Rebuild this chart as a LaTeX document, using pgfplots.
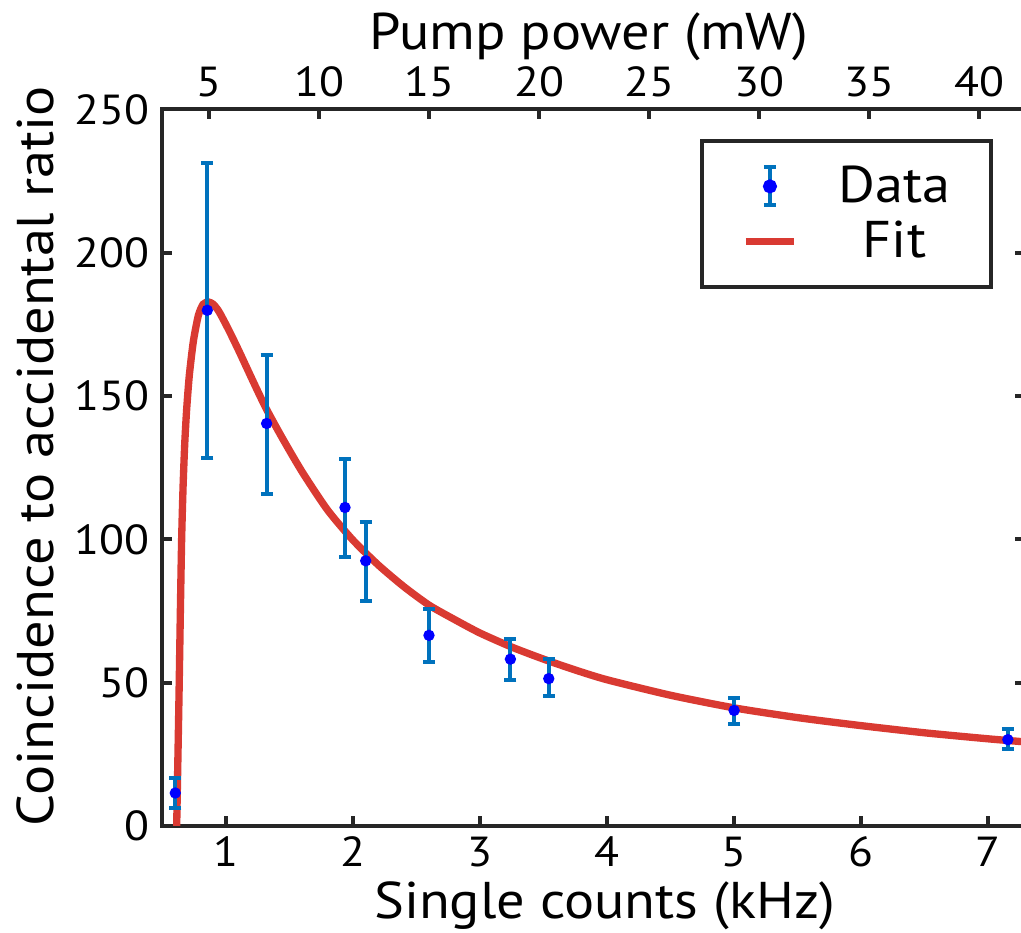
\documentclass[border=0pt]{standalone}
\usepackage{pgfplots}
\pgfplotsset{compat=1.18}
\usepackage{pgfplotstable}
\usepackage{fontspec}
\setmainfont{PT Sans}[FakeStretch=1.09]
\definecolor{axgray}{RGB}{38,38,38}
\definecolor{fitred}{RGB}{217,58,50}
\definecolor{errblue}{RGB}{0,114,189}
\definecolor{markblue}{RGB}{0,0,255}

\pgfplotstableread{
x y ep em
0.601 11.5 5.2 5.3
0.853 179.9 51.4 51.4
1.320 140.4 23.9 24.5
1.937 111.1 17.0 17.2
2.100 92.5 13.7 14.0
2.598 66.5 9.3 9.3
3.239 58.2 7.0 7.2
3.541 51.4 6.7 6.2
5.000 40.3 4.5 4.9
7.155 30.1 3.6 3.4
}\datatable

\pgfplotstableread{
x y
0.612 0
0.618 15
0.625 32
0.632 50
0.641 75
0.651 100
0.662 118
0.675 133
0.690 145
0.711 157
0.743 169
0.782 178
0.820 182
0.861 182.8
0.900 182
0.940 179.8
0.980 176.6
1.030 172.3
1.100 165.9
1.163 159.9
1.240 152.6
1.320 145.3
1.440 135.6
1.600 123.5
1.800 110.2
2.000 99.7
2.200 91
2.400 83.5
2.600 77
2.800 72
3.000 67.3
3.250 62.4
3.500 58.2
3.750 54.4
4.000 51
4.500 45.6
5.000 41.2
5.500 37.8
6.000 35
6.500 32.5
7.000 30.4
7.300 29.3
}\fittable

\begin{document}
\begin{tikzpicture}
\pgfplotsset{
  common/.style={
    at={(0,0)}, anchor=south west,
    scale only axis, width=259pt, height=215pt,
    tick align=inside,
    major tick length=3pt,
    axis line style={axgray, line width=1.2pt},
    every tick/.style={axgray, line width=1.2pt},
    tick label style={font=\fontsize{12.6}{15}\selectfont, text=black},
    label style={font=\fontsize{15.5}{18}\selectfont, text=black, inner sep=0pt},
    /pgf/number format/assume math mode=true,
  }
}
\begin{axis}[common,
  xmin=0.494, xmax=7.29, ymin=0, ymax=250,
  xtick={1,2,3,4,5,6,7}, ytick={0,50,100,150,200,250},
  xtick pos=lower, ytick pos=both, yticklabel pos=left,
  xticklabel style={anchor=north, inner sep=0pt, yshift=-3pt},
  yticklabel style={anchor=east, inner sep=0pt, xshift=-3.5pt},
  xlabel={Single counts (kHz)},
  ylabel={Coincidence to accidental ratio},
  xlabel style={at={(axis description cs:0.513,-0.1285)}, anchor=base},
  ylabel style={at={(axis description cs:-0.1259,0.516)}, anchor=base},
  legend cell align=center,
  legend style={at={(0.963,0.959)}, anchor=north east,
    draw=axgray, line width=1.2pt, fill=white,
    font=\fontsize{15.5}{18}\selectfont,
    nodes={inner sep=0pt},
    inner xsep=12.2pt, inner ysep=7.4pt, row sep=4pt,
    /tikz/every odd column/.append style={column sep=12.3pt}},
]
\addplot[fitred, line width=2.2pt, smooth, tension=0.4, forget plot] table[x=x, y=y] {\fittable};
\addplot[only marks, mark=*, mark size=1.5pt, color=markblue,
  legend image code/.code={
    \draw[errblue, line width=1.2pt] (7.2pt,-5.7pt) -- (7.2pt,5.7pt)
      (5.4pt,-5.7pt) -- (9pt,-5.7pt) (5.4pt,5.7pt) -- (9pt,5.7pt);
    \fill[markblue] (7.2pt,0pt) circle (1.5pt);
  },
  error bars/.cd, y dir=both, y explicit,
  error bar style={errblue, line width=1.2pt},
  error mark options={rotate=90, errblue, mark size=1.8pt, line width=1.2pt}]
  table[x=x, y=y, y error plus=ep, y error minus=em] {\datatable};
\addlegendentry{Data}
\addlegendimage{legend image code/.code={\draw[fitred, line width=2.2pt] (0pt,0pt) -- (14.4pt,0pt);}}
\addlegendentry{Fit}
\end{axis}
\begin{axis}[common,
  xmin=2.85, xmax=42.09, ymin=0, ymax=1,
  axis x line*=top, axis y line=none,
  xtick={5,10,15,20,25,30,35,40},
  xticklabel style={anchor=south, inner sep=0pt, yshift=3.6pt},
  xlabel={Pump power (mW)},
  xlabel style={at={(axis description cs:0.495,1.0838)}, anchor=base},
]
\end{axis}
\pgfresetboundingbox
\path (-48.51pt,-32.1pt) rectangle (257.79pt,247.8pt);
\end{tikzpicture}
\end{document}
